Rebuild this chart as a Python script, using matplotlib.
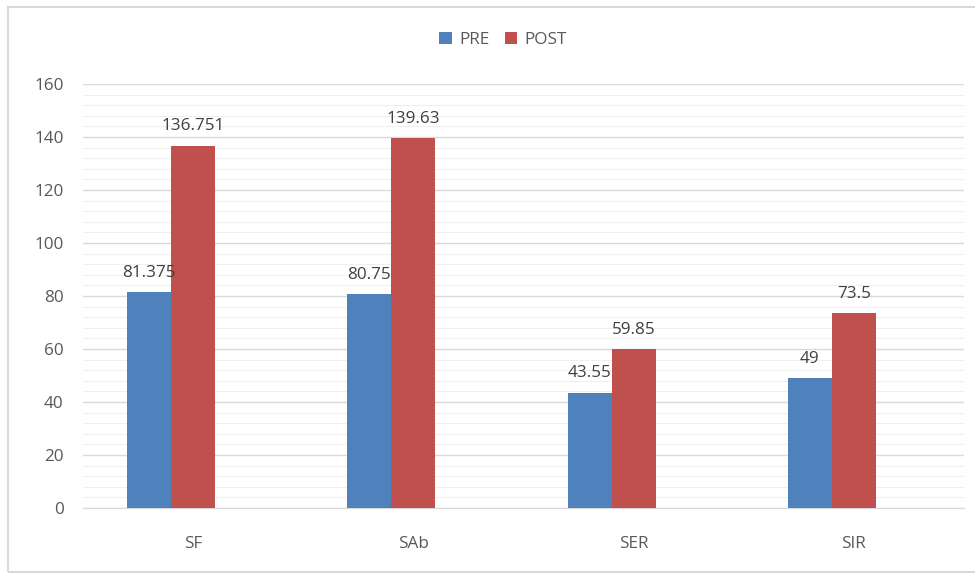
import matplotlib
matplotlib.use("Agg")
import matplotlib.pyplot as plt
from matplotlib.patches import Rectangle
import numpy as np

categories = ["SF", "SAb", "SER", "SIR"]
pre = [81.375, 80.75, 43.55, 49]
post = [136.751, 139.63, 59.85, 73.5]
pre_labels = ["81.375", "80.75", "43.55", "49"]
post_labels = ["136.751", "139.63", "59.85", "73.5"]

plt.rcParams['font.family'] = ['Open Sans', 'DejaVu Sans']
text_color = "#595959"
blue = "#4F81BD"
red = "#C0504D"
fs = 12.3

fig = plt.figure(figsize=(9.75, 5.75), dpi=100)
ax = fig.add_axes([83 / 975, 1 - 508 / 575, 881 / 975, 424 / 575])

x = np.arange(len(categories))
w = 0.2
# bars sit in the left part of each category slot (third slot left empty)
b1 = ax.bar(x - w, pre, w, color=blue, label="PRE", zorder=3)
b2 = ax.bar(x, post, w, color=red, label="POST", zorder=3)

for bars, labels in ((b1, pre_labels), (b2, post_labels)):
    for rect, lab in zip(bars, labels):
        ax.annotate(lab, (rect.get_x() + rect.get_width() / 2, rect.get_height()),
                    xytext=(0, 8), textcoords="offset points", ha="center", va="bottom",
                    fontsize=fs, color="#404040", zorder=4)

ax.set_xlim(-0.5, len(categories) - 0.5)
ax.set_ylim(0, 160)
ax.set_yticks(np.arange(0, 161, 20))
ax.set_yticks(np.arange(0, 161, 4), minor=True)
ax.set_xticks(x)
ax.set_xticklabels(categories)
ax.grid(axis="y", which="major", color="#D9D9D9", linewidth=1.0, zorder=0)
ax.grid(axis="y", which="minor", color="#EFEFEF", linewidth=0.8, zorder=0)
for s in ["top", "right", "left"]:
    ax.spines[s].set_visible(False)
ax.spines["bottom"].set_color("#D9D9D9")
ax.tick_params(axis="both", which="both", length=0, colors=text_color, labelsize=fs)
ax.tick_params(axis="y", pad=14)
ax.tick_params(axis="x", pad=20)

leg = ax.legend(loc="center", ncol=2, frameon=False,
                fontsize=fs, handlelength=0.75, handleheight=0.75,
                handletextpad=0.4, columnspacing=0.9, labelcolor=text_color)
leg.set_bbox_to_anchor((503 / 975, 1 - 40 / 575), transform=fig.transFigure)

fig.patches.append(Rectangle((8 / 975, 3 / 575), 1, 1 - 10 / 575, transform=fig.transFigure,
                             fill=False, edgecolor="#D9D9D9", linewidth=1.5))

fig.savefig("out.png", dpi=100)
